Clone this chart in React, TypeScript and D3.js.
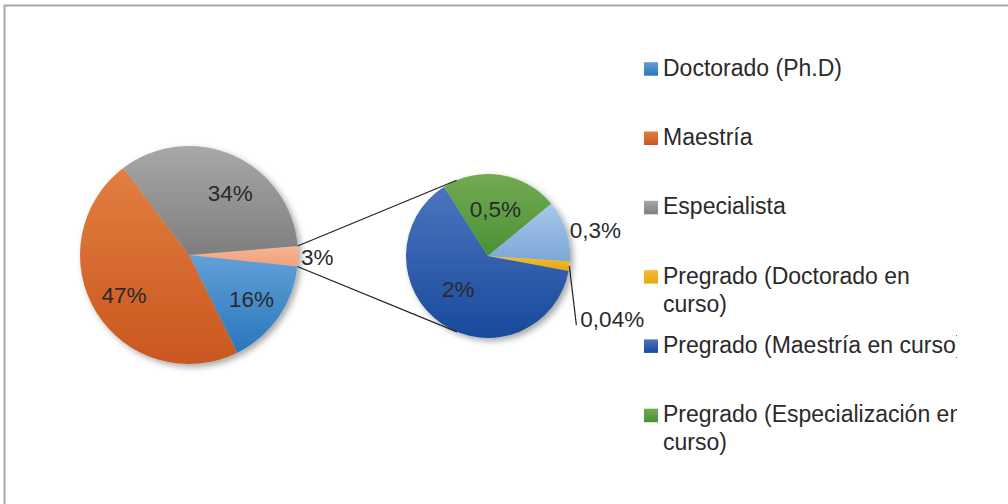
import React from "react";
import * as d3 from "d3";

// main pie (percent of total)
const mainNames = ["Doctorado (Ph.D)", "Maestría", "Especialista"];
const mainValues = [16, 47, 34];
const mainLabels = ["16%", "47%", "34%"];
const otherLabel = "3%";

// secondary pie, breakdown of the 3% slice (sizes)
const subNames = [
  "Pregrado (Doctorado en curso)",
  "Pregrado (Maestría en curso)",
  "Pregrado (Especialización en curso)",
  "Otros",
];
const subValues = [0.057, 1.89, 0.69, 0.36];
const subLabels = ["0,04%", "2%", "0,5%", "0,3%"];

// legend entries, already wrapped the way the picture shows them
const legendLines = [
  ["Doctorado (Ph.D)"],
  ["Maestría"],
  ["Especialista"],
  ["Pregrado (Doctorado en", "curso)"],
  ["Pregrado (Maestría en curso)"],
  ["Pregrado (Especialización en", "curso)"],
];

// top / bottom gradient stops
const grad: Record<string, [string, string]> = {
  blue: ["#62a0d8", "#2876bb"],
  orange: ["#e27e40", "#c9571f"],
  gray: ["#a8a8a8", "#7e7e7e"],
  salmon: ["#f7b594", "#f19f7a"],
  yellow: ["#f6bd2e", "#e6a615"],
  dblue: ["#4c74be", "#184a9c"],
  green: ["#72aa52", "#4a9135"],
  lblue: ["#a8c8ea", "#7ca7d6"],
};
const mainColors = ["blue", "orange", "gray"];
const subColors = ["yellow", "dblue", "green", "lblue"];
const legendColors = ["blue", "orange", "gray", "yellow", "dblue", "green"];

const FONT = "'Liberation Sans', Arial, sans-serif";
const TXT = "#2a2a2a";
const deg = Math.PI / 180;

const App = () => {
  const W = 1008, H = 504;
  const c1 = { x: 189, y: 255 }, r1 = 109;
  const c2 = { x: 488, y: 256 }, r2 = 82;

  const otherValue = d3.sum(subValues);
  const mainData = [
    { name: "other", value: otherValue, color: "salmon", label: otherLabel },
    ...mainValues.map((v, i) => ({ name: mainNames[i], value: v, color: mainColors[i], label: mainLabels[i] })),
  ];
  const subData = subValues.map((v, i) => ({ name: subNames[i], value: v, color: subColors[i], label: subLabels[i] }));

  const mainPie = d3.pie<any>().sort(null).value((d) => d.value)
    .startAngle(85.3 * deg).endAngle((85.3 + 360) * deg);
  const subPie = d3.pie<any>().sort(null).value((d) => d.value)
    .startAngle(93.7 * deg).endAngle((93.7 + 360) * deg);
  const mainArcs = mainPie(mainData);
  const subArcs = subPie(subData);

  const arc1 = d3.arc<any>().innerRadius(0).outerRadius(r1);
  const arc2 = d3.arc<any>().innerRadius(0).outerRadius(r2);
  const lab1 = d3.arc<any>().innerRadius(r1 * 0.7).outerRadius(r1 * 0.7);
  const lab2 = d3.arc<any>().innerRadius(r2 * 0.58).outerRadius(r2 * 0.58);

  // point on a circle for a d3 angle (0 = 12 o'clock, clockwise)
  const pt = (c: { x: number; y: number }, r: number, a: number) => ({
    x: c.x + r * Math.sin(a),
    y: c.y - r * Math.cos(a),
  });

  // connector lines: from the "other" slice edges, tangent to the secondary pie
  const other = mainArcs[0];
  const pTop = pt(c1, r1, other.startAngle);
  const pBot = pt(c1, r1, other.endAngle);
  const tangent = (p: { x: number; y: number }, upper: boolean) => {
    const dx = p.x - c2.x, dy = p.y - c2.y;
    const d = Math.hypot(dx, dy);
    const phi = Math.atan2(dy, dx);
    const a = Math.acos(r2 / d);
    const t1 = phi + a, t2 = phi - a;
    const q1 = { x: c2.x + r2 * Math.cos(t1), y: c2.y + r2 * Math.sin(t1) };
    const q2 = { x: c2.x + r2 * Math.cos(t2), y: c2.y + r2 * Math.sin(t2) };
    return upper ? (q1.y < q2.y ? q1 : q2) : (q1.y > q2.y ? q1 : q2);
  };
  const tTop = tangent(pTop, true);
  const tBot = tangent(pBot, false);

  const mid = (a: any) => (a.startAngle + a.endAngle) / 2;
  const nudge: Record<string, [number, number]> = { "34%": [10, 8], "2%": [-3, -6] };

  const legendY = d3.scaleLinear().domain([0, 1]).range([75.7, 145]);
  const fs = 22.5;

  return (
    <svg width={W} height={H} style={{ position: "absolute", left: 0, top: 0, background: "#fff" }}>
      <defs>
        {Object.entries(grad).map(([k, [a, b]]) => (
          <linearGradient key={k} id={`g-${k}`} x1="0" y1="0" x2="0" y2="1">
            <stop offset="0" stopColor={a} />
            <stop offset="1" stopColor={b} />
          </linearGradient>
        ))}
        <filter id="shadow" x="-20%" y="-20%" width="140%" height="140%">
          <feDropShadow dx="3" dy="3" stdDeviation="3" floodColor="#000" floodOpacity="0.35" />
        </filter>
        <clipPath id="legendClip">
          <rect x={600} y={0} width={357} height={H} />
        </clipPath>
      </defs>

      <rect x={4.5} y={5.5} width={W + 20} height={H + 20} fill="none" stroke="#a9a9ab" strokeWidth={2} />

      {/* main pie */}
      <g filter="url(#shadow)">
        {mainArcs.map((a, i) => (
          <path key={i} transform={`translate(${c1.x},${c1.y})`} d={arc1(a) as string} fill={`url(#g-${a.data.color})`} />
        ))}
      </g>
      {/* secondary pie */}
      <g filter="url(#shadow)">
        {subArcs.map((a, i) => (
          <path key={i} transform={`translate(${c2.x},${c2.y})`} d={arc2(a) as string} fill={`url(#g-${a.data.color})`} />
        ))}
      </g>

      {/* connectors */}
      <line x1={pTop.x} y1={pTop.y} x2={tTop.x} y2={tTop.y} stroke="#222" strokeWidth={1.2} />
      <line x1={pBot.x} y1={pBot.y} x2={tBot.x} y2={tBot.y} stroke="#222" strokeWidth={1.2} />

      {/* main labels */}
      <g fontFamily={FONT} fontSize={fs} fill={TXT}>
        {mainArcs.map((a, i) => {
          if (a.data.name === "other") {
            const p = pt(c1, r1 + 3, mid(a));
            return (
              <text key={i} x={p.x} y={p.y + 1} dy="0.35em" textAnchor="start">{a.data.label}</text>
            );
          }
          const [x, y] = lab1.centroid(a);
          const n = nudge[a.data.label] || [0, 0];
          return (
            <text key={i} x={c1.x + x + n[0]} y={c1.y + y + n[1]} dy="0.35em" textAnchor="middle">{a.data.label}</text>
          );
        })}
        {subArcs.map((a, i) => {
          if (a.data.color === "lblue") {
            const p = pt(c2, r2 + 4, mid(a));
            return (
              <text key={i} x={p.x} y={p.y + 1} dy="0.35em" textAnchor="start">{a.data.label}</text>
            );
          }
          if (a.data.color === "yellow") {
            const p = pt(c2, r2, mid(a));
            const end = { x: p.x + 7, y: p.y + 59 };
            return (
              <g key={i}>
                <line x1={p.x} y1={p.y} x2={end.x} y2={end.y} stroke="#222" strokeWidth={1.2} />
                <text x={end.x + 4} y={end.y - 6} dy="0.35em" textAnchor="start">{a.data.label}</text>
              </g>
            );
          }
          const [x, y] = lab2.centroid(a);
          const n = nudge[a.data.label] || [0, 0];
          return (
            <text key={i} x={c2.x + x + n[0]} y={c2.y + y + n[1]} dy="0.35em" textAnchor="middle">{a.data.label}</text>
          );
        })}
      </g>

      {/* legend */}
      <g clipPath="url(#legendClip)" fontFamily={FONT} fontSize={23} fill={TXT}>
        {legendLines.map((lines, i) => {
          const base = legendY(i);
          return (
            <g key={i}>
              <rect x={644} y={base - 13.5} width={14} height={13.5} fill={`url(#g-${legendColors[i]})`} />
              {lines.map((l, j) => (
                <text key={j} x={663} y={base + j * 28}>{l}</text>
              ))}
            </g>
          );
        })}
      </g>
    </svg>
  );
};

export default App;
